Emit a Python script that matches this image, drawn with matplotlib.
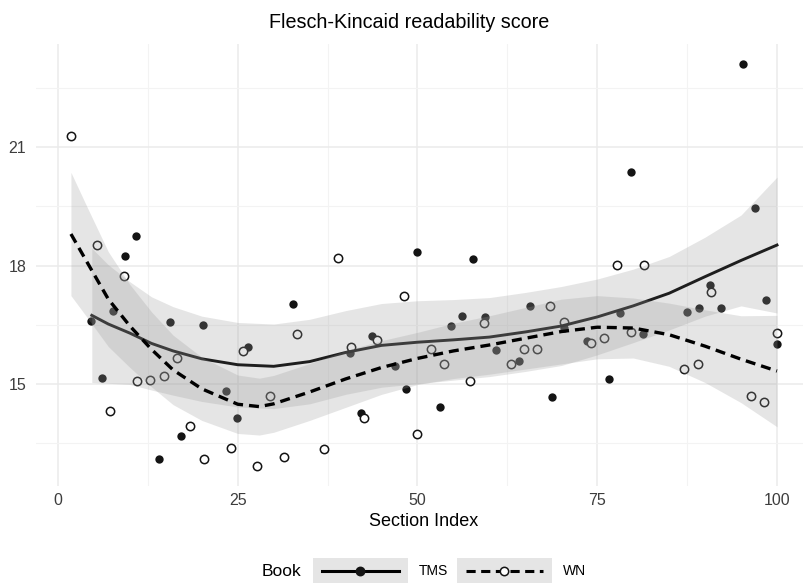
import matplotlib
matplotlib.use("Agg")
import matplotlib.pyplot as plt
from matplotlib.lines import Line2D
from matplotlib.patches import Rectangle

# Points (section index, score)
tms_x = [4.55, 6.08, 7.65, 9.28, 10.81, 14.05, 15.54, 17.11, 20.21, 23.37, 24.90, 26.47,
         32.73, 40.65, 42.10, 43.71, 46.83, 48.40, 49.97, 53.17, 54.66, 56.23, 57.76,
         59.39, 60.96, 64.08, 65.65, 68.75, 70.38, 73.53, 76.59, 78.16, 79.69, 81.32,
         87.52, 89.15, 90.68, 92.25, 95.23, 96.98, 98.51, 100.0]
tms_y = [16.60, 15.16, 16.86, 18.24, 18.75, 13.10, 16.58, 13.69, 16.50, 14.82, 14.15, 15.95,
         17.03, 15.79, 14.27, 16.23, 15.45, 14.87, 18.34, 14.41, 16.47, 16.73, 18.16,
         16.69, 15.87, 15.59, 16.97, 14.68, 16.41, 16.08, 15.13, 16.79, 20.37, 16.28,
         16.82, 16.92, 17.52, 16.92, 23.10, 19.46, 17.13, 16.01]

wn_x = [1.81, 5.47, 7.23, 9.18, 10.99, 12.84, 14.70, 16.51, 18.39, 20.35, 24.02, 25.77,
        27.72, 29.53, 31.43, 33.20, 36.99, 38.90, 40.71, 42.52, 44.41, 48.12, 49.97,
        51.84, 53.69, 57.34, 59.25, 62.96, 64.81, 66.66, 68.47, 70.38, 74.13, 75.98,
        77.79, 79.69, 81.54, 87.07, 88.97, 90.78, 96.38, 98.23, 100.0]
wn_y = [21.28, 18.51, 14.33, 17.74, 15.08, 15.11, 15.21, 15.67, 13.93, 13.10, 13.38, 15.84,
        12.92, 14.69, 13.16, 16.28, 13.35, 18.18, 15.94, 14.13, 16.11, 17.23, 13.74,
        15.88, 15.52, 15.09, 16.55, 15.52, 15.88, 15.89, 16.98, 16.58, 16.04, 16.16,
        18.01, 16.32, 18.01, 15.37, 15.50, 17.33, 14.71, 14.54, 16.30]

# Smoothed trend and confidence band, read at a few section indices
tms_sx = [4.7, 7, 10, 13, 16, 20, 25, 30, 35, 40, 45, 50, 55, 60, 65, 70, 75, 80, 85, 90, 95, 100]
tms_fit = [16.74, 16.52, 16.29, 16.03, 15.84, 15.64, 15.49, 15.45, 15.57, 15.80, 15.98,
           16.06, 16.12, 16.19, 16.32, 16.47, 16.70, 16.98, 17.30, 17.72, 18.13, 18.52]
tms_upper = [18.44, 18.02, 17.59, 17.21, 16.96, 16.72, 16.56, 16.52, 16.64, 16.86, 17.04,
             17.11, 17.14, 17.19, 17.32, 17.47, 17.66, 17.91, 18.23, 18.72, 19.28, 20.24]
tms_lower = [15.04, 15.02, 14.99, 14.85, 14.72, 14.56, 14.42, 14.38, 14.50, 14.74, 14.92,
             15.01, 15.10, 15.19, 15.32, 15.47, 15.74, 16.05, 16.37, 16.72, 16.98, 16.80]

wn_sx = [1.8, 4, 7, 10, 13, 16, 20, 25, 28, 30, 35, 40, 45, 50, 55, 60, 65, 70, 75, 80, 85, 90, 95, 100]
wn_fit = [18.80, 18.10, 17.15, 16.47, 15.88, 15.36, 14.88, 14.49, 14.43, 14.50, 14.80, 15.13,
          15.42, 15.65, 15.84, 15.99, 16.16, 16.33, 16.44, 16.42, 16.25, 15.96, 15.63, 15.33]
wn_upper = [20.36, 19.50, 18.35, 17.52, 16.83, 16.24, 15.68, 15.23, 15.15, 15.22, 15.52, 15.85,
            16.10, 16.31, 16.54, 16.73, 16.94, 17.15, 17.24, 17.18, 17.05, 16.88, 16.73, 16.74]
wn_lower = [17.24, 16.70, 15.95, 15.42, 14.93, 14.48, 14.08, 13.75, 13.71, 13.78, 14.08, 14.41,
            14.74, 14.99, 15.14, 15.25, 15.38, 15.51, 15.64, 15.66, 15.45, 15.04, 14.53, 13.92]

x_ticks = [0, 25, 50, 75, 100]
y_ticks = [15, 18, 21]

W, H = 804, 583
BAND = '#999999'
BAND_ALPHA = 0.25
INK = '#141414'

plt.rcParams['font.family'] = ['Liberation Sans', 'DejaVu Sans']

fig = plt.figure(figsize=(W / 100, H / 100), dpi=100)
ax = fig.add_axes([36 / W, 1 - 486 / H, 776 / W, 442 / H])

# points first, so the bands tint them like in ggplot
ax.scatter(tms_x, tms_y, s=36, color=INK, lw=0, zorder=2)
ax.scatter(wn_x, wn_y, s=36, facecolors='white', edgecolors=INK, linewidths=1.1, zorder=2)

# TMS band + line, then WN band + line
ax.fill_between(tms_sx, tms_lower, tms_upper, color=BAND, alpha=BAND_ALPHA, lw=0, zorder=3)
ax.plot(tms_sx, tms_fit, color='#1e1e1e', lw=2.1, zorder=4)
ax.fill_between(wn_sx, wn_lower, wn_upper, color=BAND, alpha=BAND_ALPHA, lw=0, zorder=5)
ax.plot(wn_sx, wn_fit, color='black', lw=2.4, ls=(0, (3, 1.8)), zorder=6)

ax.set_xlim(-3.06, 104.87)
ax.set_ylim(12.42, 23.61)
ax.set_xticks(x_ticks)
ax.set_xticks([12.5, 37.5, 62.5, 87.5], minor=True)
ax.set_yticks(y_ticks)
ax.set_yticks([13.5, 16.5, 19.5, 22.5], minor=True)
ax.grid(which='major', color='#ebebeb', lw=1.1)
ax.grid(which='minor', color='#f3f3f3', lw=0.8)
ax.set_axisbelow(True)
for s in ax.spines.values():
    s.set_visible(False)
ax.tick_params(which='both', length=0, labelsize=11.5, colors='#3d3d3d')
ax.tick_params(axis='x', pad=5)
ax.tick_params(axis='y', pad=7)


def fx(px):
    return px / W


def fy(py):
    return 1 - py / H


fig.text(fx(409), fy(22), 'Flesch-Kincaid readability score', ha='center', va='center',
         size=14.2, color='black')
fig.text(fx(424), fy(521), 'Section Index', ha='center', va='center', size=13, color='black')

# legend along the bottom
ly = 571
fig.text(fx(262), fy(ly), 'Book', ha='left', va='center', size=12.5)
for x0, x1, label, style, face in [(313, 408, 'TMS', '-', INK), (457, 552, 'WN', (0, (3, 1.8)), 'white')]:
    fig.patches.append(Rectangle((fx(x0), fy(ly + 13)), (x1 - x0) / W, 26 / H,
                                 transform=fig.transFigure, color=BAND, alpha=BAND_ALPHA, lw=0))
    fig.lines.append(Line2D([fx(x0 + 9), fx(x1 - 9)], [fy(ly), fy(ly)], transform=fig.transFigure,
                            color='black', lw=2.2, ls=style))
    fig.lines.append(Line2D([fx((x0 + x1) / 2)], [fy(ly)], transform=fig.transFigure, marker='o',
                            markersize=6, markerfacecolor=face, markeredgecolor=INK,
                            markeredgewidth=1.1, ls='none'))
    fig.text(fx(x1 + 11), fy(ly), label, ha='left', va='center', size=10)

fig.savefig('out.png', dpi=100)
